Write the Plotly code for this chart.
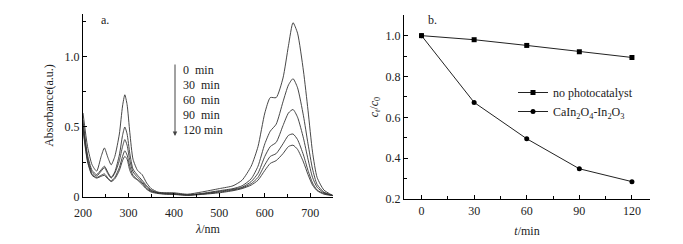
import plotly.graph_objects as go

# ---- panel a: UV-vis spectra ----
wavelength = [200, 210, 220, 230, 240, 247, 255, 262, 270, 280, 287, 292, 297, 303, 310, 320, 330, 340, 350, 365,
              380, 400, 430, 460, 500, 530, 550, 570, 585, 600, 612, 625, 640, 652, 662, 672, 685, 695, 705, 715, 730, 750]
abs_0 = [0.60, 0.36, 0.23, 0.185, 0.29, 0.35, 0.28, 0.23, 0.29, 0.45, 0.65, 0.73, 0.66, 0.46, 0.27, 0.19, 0.16, 0.10, 0.06, 0.035,
         0.03, 0.03, 0.02, 0.035, 0.06, 0.08, 0.12, 0.22, 0.36, 0.60, 0.71, 0.71, 0.85, 1.08, 1.245, 1.17, 0.90, 0.62, 0.32, 0.14, 0.05, 0.01]
abs_30 = [0.55, 0.30, 0.19, 0.16, 0.195, 0.22, 0.175, 0.14, 0.18, 0.30, 0.44, 0.50, 0.45, 0.31, 0.20, 0.155, 0.12, 0.08, 0.05, 0.03,
          0.028, 0.025, 0.015, 0.025, 0.045, 0.06, 0.08, 0.13, 0.22, 0.38, 0.47, 0.52, 0.68, 0.80, 0.845, 0.78, 0.58, 0.38, 0.20, 0.09, 0.035, 0.01]
abs_60 = [0.52, 0.28, 0.175, 0.15, 0.185, 0.21, 0.165, 0.135, 0.17, 0.26, 0.36, 0.41, 0.37, 0.26, 0.18, 0.14, 0.11, 0.07, 0.045, 0.03,
          0.025, 0.022, 0.015, 0.022, 0.04, 0.055, 0.07, 0.11, 0.17, 0.29, 0.36, 0.39, 0.51, 0.60, 0.625, 0.57, 0.42, 0.27, 0.14, 0.07, 0.03, 0.01]
abs_90 = [0.50, 0.26, 0.16, 0.14, 0.155, 0.165, 0.135, 0.115, 0.14, 0.21, 0.29, 0.33, 0.30, 0.22, 0.155, 0.125, 0.10, 0.06, 0.04, 0.028,
          0.022, 0.02, 0.013, 0.02, 0.035, 0.05, 0.065, 0.095, 0.14, 0.23, 0.29, 0.31, 0.38, 0.44, 0.45, 0.41, 0.30, 0.19, 0.10, 0.05, 0.025, 0.01]
abs_120 = [0.48, 0.25, 0.155, 0.135, 0.148, 0.155, 0.128, 0.11, 0.13, 0.19, 0.26, 0.29, 0.27, 0.19, 0.145, 0.12, 0.09, 0.055, 0.035, 0.025,
           0.02, 0.018, 0.012, 0.018, 0.03, 0.045, 0.06, 0.085, 0.12, 0.19, 0.24, 0.26, 0.31, 0.36, 0.37, 0.34, 0.25, 0.16, 0.085, 0.045, 0.02, 0.01]
spectra = [abs_0, abs_30, abs_60, abs_90, abs_120]
time_labels = ["0  min", "30  min", "60  min", "90  min", "120 min"]

# ---- panel b: degradation kinetics ----
time_min = [0, 30, 60, 90, 120]
no_catalyst = [1.0, 0.98, 0.952, 0.921, 0.893]
with_catalyst = [1.0, 0.673, 0.495, 0.348, 0.285]

W, H = 683, 244
ML, MR, MT, MB = 83, 33, 14, 45
PW, PH = W - ML - MR, H - MT - MB
FONT = "Liberation Serif, Times New Roman, serif"
ink = "#222222"
FS = 12

def px(x):
    return (x - ML) / PW

def py(y):
    return (H - MB - y) / PH

fig = go.Figure()
for s in spectra:
    fig.add_trace(go.Scatter(x=wavelength, y=s, mode="lines",
                             line=dict(color="#333333", width=0.9, shape="spline", smoothing=0.6),
                             showlegend=False, xaxis="x", yaxis="y", hoverinfo="skip"))

fig.add_trace(go.Scatter(x=time_min, y=no_catalyst, mode="lines+markers", name="no photocatalyst",
                         line=dict(color=ink, width=1), marker=dict(symbol="square", size=5, color="black"),
                         xaxis="x2", yaxis="y2"))
fig.add_trace(go.Scatter(x=time_min, y=with_catalyst, mode="lines+markers",
                         name="CaIn<sub>2</sub>O<sub>4</sub>-In<sub>2</sub>O<sub>3</sub>",
                         line=dict(color=ink, width=1), marker=dict(symbol="circle", size=5, color="black"),
                         xaxis="x2", yaxis="y2"))

axis_common = dict(showline=True, linecolor="black", linewidth=1.2, ticks="inside", ticklen=4, tickwidth=1,
                   tickcolor="black", showgrid=False, zeroline=False, mirror=False, automargin=False,
                   tickfont=dict(family=FONT, size=FS, color=ink))
minor_common = dict(ticks="inside", ticklen=2.5, tickcolor="black", showgrid=False)

fig.update_layout(
    width=W, height=H, margin=dict(l=ML, r=MR, t=MT, b=MB),
    paper_bgcolor="white", plot_bgcolor="white",
    font=dict(family=FONT, size=FS, color=ink),
    xaxis=dict(domain=[px(83), px(333)], range=[200, 750], dtick=100, tick0=200,
               minor=dict(dtick=50, **minor_common), ticklabelstandoff=4,
               title=dict(text="<i>λ</i>/nm", standoff=6, font=dict(family=FONT, size=FS)),
               anchor="y", **axis_common),
    yaxis=dict(domain=[py(197), py(14)], range=[0, 1.307], tickvals=[0, 0.5, 1.0], ticktext=["0", "0.5", "1.0"],
               minor=dict(dtick=0.25, **minor_common),
               title=dict(text="Absorbance(a.u.)", standoff=8, font=dict(family=FONT, size=FS)),
               anchor="x", **axis_common),
    xaxis2=dict(domain=[px(404), px(650)], range=[-10, 130.3], tickvals=[0, 30, 60, 90, 120],
                minor=dict(tickvals=[15, 45, 75, 105], **minor_common),
                title=dict(text="<i>t</i>/min", standoff=10, font=dict(family=FONT, size=FS)),
                anchor="y2", **axis_common),
    yaxis2=dict(domain=[py(199), py(15)], range=[0.2, 1.101], tickvals=[0.2, 0.4, 0.6, 0.8, 1.0],
                ticktext=["0.2", "0.4", "0.6", "0.8", "1.0"],
                minor=dict(dtick=0.1, **minor_common),
                title=dict(text="<i>c</i><sub><i>t</i></sub>/<i>c</i><sub>0</sub>", standoff=4,
                           font=dict(family=FONT, size=FS)),
                anchor="x2", **axis_common),
    legend=dict(x=px(513), y=py(78), xanchor="left", yanchor="top", bgcolor="rgba(0,0,0,0)",
                font=dict(family=FONT, size=FS, color=ink), itemwidth=30, tracegroupgap=0),
)

annotations = [
    dict(x=px(99), y=py(20), xref="paper", yref="paper", text="a.", showarrow=False, xanchor="left",
         yanchor="middle", font=dict(family=FONT, size=FS, color=ink)),
    dict(x=px(426), y=py(20), xref="paper", yref="paper", text="b.", showarrow=False, xanchor="left",
         yanchor="middle", font=dict(family=FONT, size=FS, color=ink)),
    dict(x=px(175), y=py(136), xref="paper", yref="paper", ax=0, ay=-73, axref="pixel", ayref="pixel",
         text="", showarrow=True, arrowhead=2, arrowsize=0.9, arrowwidth=1, arrowcolor="#444444"),
]
for i, lab in enumerate(time_labels):
    annotations.append(dict(x=px(181), y=py(70 + 15 * i), xref="paper", yref="paper", text=lab, showarrow=False,
                            xanchor="left", yanchor="middle", font=dict(family=FONT, size=FS, color=ink)))
fig.update_layout(annotations=annotations)

fig.write_html("out.html", config={"displayModeBar": False},
               post_script="document.body.style.margin='0';document.body.style.padding='0';")
